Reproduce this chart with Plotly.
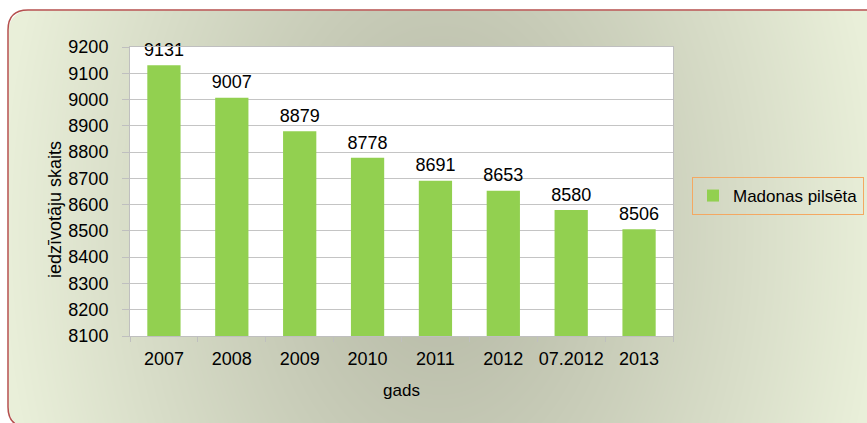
import numpy as np
import zlib, struct, base64
import plotly.graph_objects as go

# ---- data ----
categories = ["2007", "2008", "2009", "2010", "2011", "2012", "07.2012", "2013"]
population = [9131, 9007, 8879, 8778, 8691, 8653, 8580, 8506]
series_name = "Madonas pilsēta"
y_title = "iedzīvotāju skaits"
x_title = "gads"
y_ticks = list(range(8100, 9201, 100))

W, H = 867, 423
FONT = "Arial, Liberation Sans, sans-serif"
BX0, BY0, BX1, BY1, BR = 8, 10, 885, 427, 20

# ---- background gradient image (decorative) ----
def make_bg_png():
    yy, xx = np.mgrid[0:H, 0:W].astype(float)
    cx, cy, rx, ry = 440.0, 230.0, 440.0, 650.0
    t = np.sqrt(((xx - cx) / rx) ** 2 + ((yy - cy) / ry) ** 2)
    t = np.clip(t, 0, 1) ** 1.15
    dark = np.array([0xb6, 0xb9, 0xa6], float)
    light = np.array([0xe9, 0xef, 0xd9], float)
    rgb = dark[None, None, :] * (1 - t[..., None]) + light[None, None, :] * t[..., None]
    x0, y0, x1, y1, r = float(BX0), float(BY0), float(BX1), float(BY1), float(BR)
    qx = np.clip(xx, x0 + r, x1 - r)
    qy = np.clip(yy, y0 + r, y1 - r)
    d = np.sqrt((xx - qx) ** 2 + (yy - qy) ** 2)
    alpha = np.clip(r - d + 0.5, 0, 1)
    alpha = np.where((xx < x0) | (yy < y0), 0, alpha)
    img = np.dstack([rgb, alpha * 255]).round().astype(np.uint8)
    raw = b"".join(b"\x00" + img[i].tobytes() for i in range(H))
    def chunk(tag, data):
        c = struct.pack(">I", len(data)) + tag + data
        return c + struct.pack(">I", zlib.crc32(tag + data) & 0xffffffff)
    png = b"\x89PNG\r\n\x1a\n"
    png += chunk(b"IHDR", struct.pack(">IIBBBBB", W, H, 8, 6, 0, 0, 0))
    png += chunk(b"IDAT", zlib.compress(raw, 9))
    png += chunk(b"IEND", b"")
    return "data:image/png;base64," + base64.b64encode(png).decode()

def px(x):
    return x / W

def py(y):
    return 1 - y / H

# rounded border path
x0, y0, x1, y1, r = BX0, BY0, BX1, BY1, BR
pts = [
    ("M", x0 + r, y0), ("L", x1 - r, y0), ("Q", x1, y0, x1, y0 + r), ("L", x1, y1 - r),
    ("Q", x1, y1, x1 - r, y1), ("L", x0 + r, y1), ("Q", x0, y1, x0, y1 - r),
    ("L", x0, y0 + r), ("Q", x0, y0, x0 + r, y0),
]
path = ""
for p in pts:
    cmd = p[0]
    coords = p[1:]
    s = []
    for i in range(0, len(coords), 2):
        s.append(f"{px(coords[i]):.5f},{py(coords[i+1]):.5f}")
    path += cmd + " ".join(s) + " "
path += "Z"

fig = go.Figure()
fig.add_trace(go.Bar(
    x=categories, y=population, name=series_name,
    marker=dict(color="#92d050", line=dict(width=0)),
    showlegend=True,
))
fig.add_trace(go.Scatter(
    x=categories, y=population, mode="markers+text",
    text=[str(v) for v in population], textposition="top center",
    textfont=dict(family=FONT, size=18, color="#000000"),
    marker=dict(size=6, opacity=0), showlegend=False, hoverinfo="skip",
    cliponaxis=False,
))

fig.update_layout(
    width=W, height=H,
    margin=dict(l=0, r=0, t=0, b=0, autoexpand=False),
    paper_bgcolor="white", plot_bgcolor="white",
    font=dict(family=FONT, size=18, color="#000000"),
    bargap=0.51,
    xaxis=dict(
        domain=[px(130), px(673)], automargin=False, tickangle=0,
        tickson="boundaries", ticks="outside", ticklen=5, tickcolor="#bfbfbf",
        showline=True, linecolor="#bfbfbf", linewidth=1, mirror=True,
        showgrid=False, ticklabelstandoff=6,
        title=dict(text=x_title, font=dict(size=17), standoff=16),
    ),
    yaxis=dict(
        domain=[py(336), py(47)], automargin=False,
        range=[8100, 9200], tickvals=y_ticks,
        ticks="outside", ticklen=7, tickcolor="#bfbfbf",
        showline=True, linecolor="#bfbfbf", linewidth=1, mirror=True,
        showgrid=True, gridcolor="#c4c4c4", gridwidth=1,
        ticklabelstandoff=10,
    ),
    legend=dict(
        x=px(692), y=py(177), xanchor="left", yanchor="top",
        bordercolor="#f4a862", borderwidth=1, bgcolor="rgba(0,0,0,0)",
        font=dict(size=17), itemwidth=30,
    ),
    annotations=[dict(
        text=y_title, textangle=-90, xref="paper", yref="paper",
        x=px(55), y=py(209), xanchor="center", yanchor="middle",
        showarrow=False, font=dict(size=18),
    )],
    images=[dict(
        source=make_bg_png(), xref="paper", yref="paper", x=0, y=1,
        sizex=1, sizey=1, xanchor="left", yanchor="top",
        sizing="stretch", layer="below",
    )],
    shapes=[
        dict(type="rect", xref="x domain", yref="y domain", x0=0, x1=1, y0=0, y1=1,
             fillcolor="white", line=dict(width=0), layer="below"),
        dict(type="path", path=path, xref="paper", yref="paper",
             line=dict(color="#b5504e", width=1.5), fillcolor="rgba(0,0,0,0)"),
    ],
)

fig.write_html(
    "out.html",
    config={"displayModeBar": False},
    post_script="document.body.style.margin='0';document.body.style.overflow='hidden';",
)
